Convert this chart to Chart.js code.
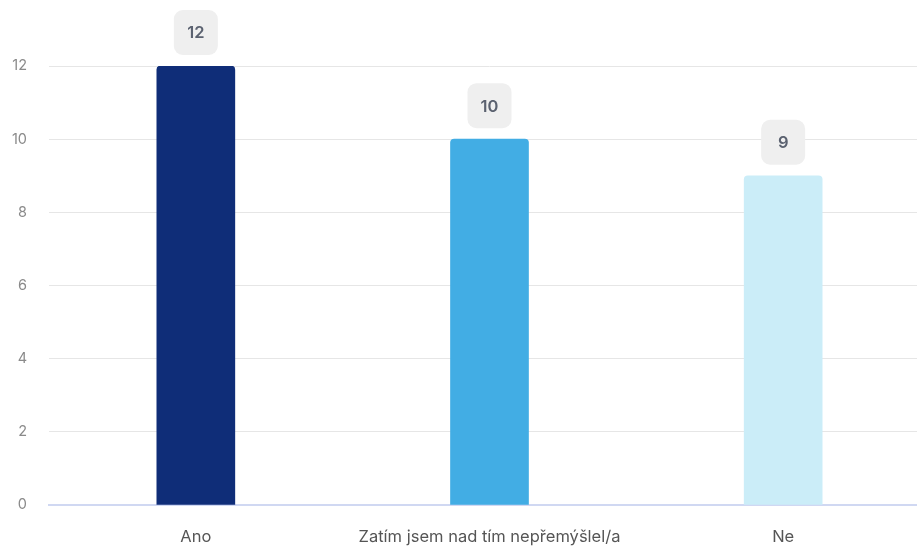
<!DOCTYPE html>
<html lang="cs">
<head>
  <meta charset="UTF-8">
  <title>Odpovědi</title>
  <script src="https://cdn.jsdelivr.net/npm/chart.js"></script>
  <style>
    html, body {
      margin: 0;
      padding: 0;
      background: #ffffff;
      overflow: hidden;
    }
    .chart-wrap {
      width: 930px;
      height: 546px;
    }
  </style>
</head>
<body>
  <div class="chart-wrap">
    <canvas id="graf"></canvas>
  </div>

  <script>
    const kategorie = ['Ano', 'Zatím jsem nad tím nepřemýšlel/a', 'Ne'];
    const pocty = [12, 10, 9];
    const barvy = ['#0f2d78', '#42ade4', '#cbedf8'];
    const osaY = [0, 2, 4, 6, 8, 10, 12];

    // štítky s hodnotou v šedém zaobleném rámečku nad sloupcem
    const stitkyHodnot = {
      id: 'stitkyHodnot',
      afterDatasetsDraw(chart) {
        const ctx = chart.ctx;
        const meta = chart.getDatasetMeta(0);
        ctx.save();
        meta.data.forEach((bar, i) => {
          const w = 44, h = 45;
          const x = bar.x - w / 2;
          const y = bar.y - 11 - h;
          ctx.fillStyle = '#efefef';
          ctx.beginPath();
          ctx.roundRect(x, y, w, h, 9);
          ctx.fill();
          ctx.fillStyle = '#5b6270';
          ctx.font = '600 16.5px Inter, "DejaVu Sans", sans-serif';
          ctx.textAlign = 'center';
          ctx.textBaseline = 'middle';
          ctx.fillText(String(pocty[i]), bar.x, y + h / 2 + 1);
        });
        ctx.restore();
      }
    };

    new Chart(document.getElementById('graf'), {
      type: 'bar',
      data: {
        labels: kategorie,
        datasets: [{
          data: pocty,
          backgroundColor: barvy,
          barThickness: 78,
          borderRadius: { topLeft: 4, topRight: 4 },
          borderSkipped: 'bottom'
        }]
      },
      options: {
        responsive: true,
        maintainAspectRatio: false,
        animation: false,
        layout: { padding: { top: 66, left: 0, right: 0, bottom: 0 } },
        plugins: {
          legend: { display: false },
          tooltip: { enabled: false }
        },
        scales: {
          x: {
            grid: { display: false, drawTicks: false },
            border: { color: '#d0d8f2', width: 2 },
            afterFit(axis) {
              axis.height = 41;
            },
            ticks: {
              color: '#555555',
              font: { family: 'Inter, "DejaVu Sans", sans-serif', size: 16.5 },
              padding: 22
            }
          },
          y: {
            min: 0,
            max: 12,
            afterBuildTicks(axis) {
              axis.ticks = osaY.map(v => ({ value: v }));
            },
            afterFit(axis) {
              axis.width = 49;
            },
            grid: { color: '#e6e6e6', drawTicks: false },
            border: { display: false },
            ticks: {
              color: '#8a8a8a',
              font: { family: 'Inter, "DejaVu Sans", sans-serif', size: 14.5 },
              padding: 22
            }
          }
        }
      },
      plugins: [stitkyHodnot]
    });
  </script>
</body>
</html>
